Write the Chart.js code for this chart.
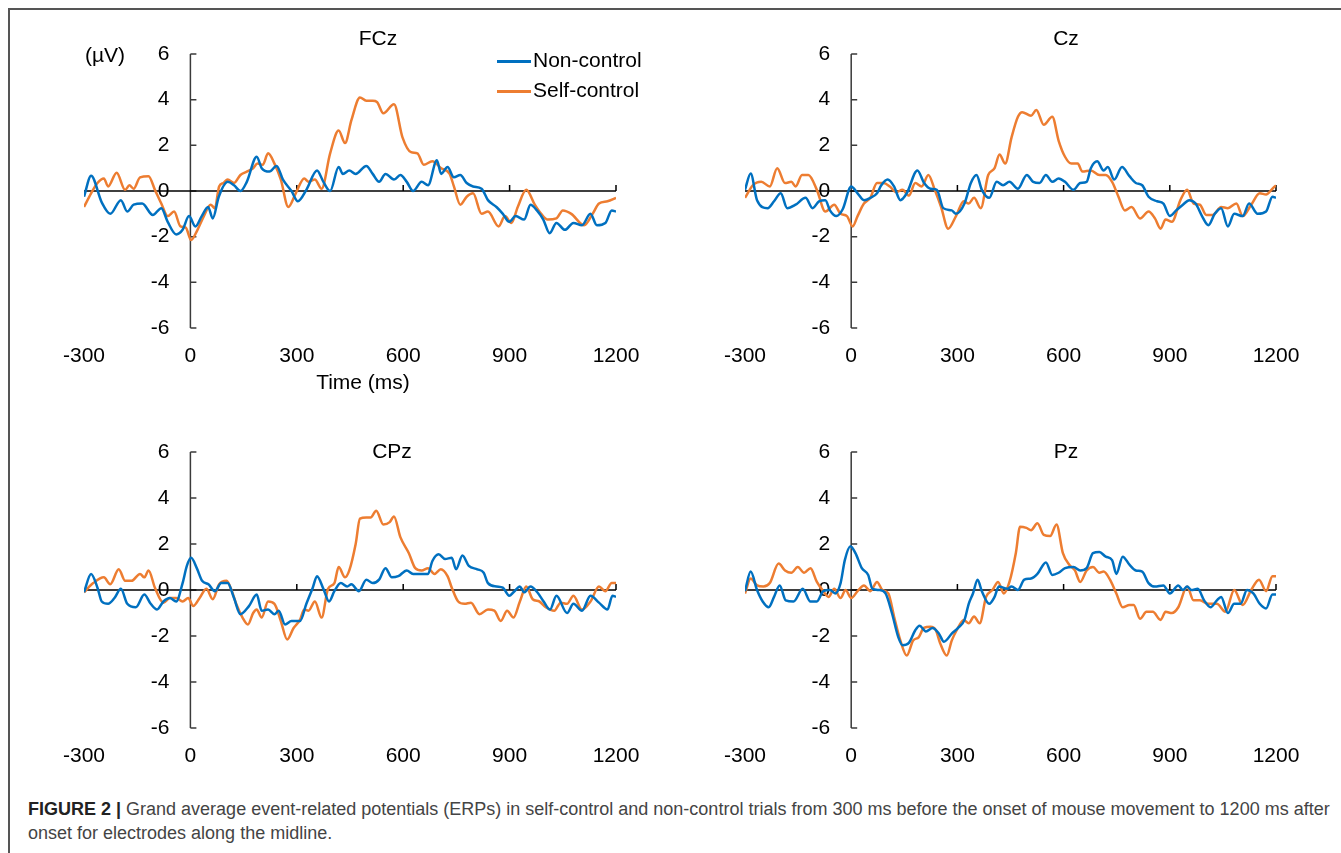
<!DOCTYPE html>
<html lang="en">

<head>
  <meta charset="UTF-8" />
  <title>Grand average ERPs</title>
  <script src="https://cdn.jsdelivr.net/npm/chart.js"></script>
  <style>
    body {
      margin: 0;
      background: #fff;
      font-family: "Liberation Sans", Arial, sans-serif;
    }

    #page {
      position: relative;
      width: 1341px;
      height: 853px;
      overflow: hidden;
    }

    #frame {
      position: absolute;
      left: 8px;
      top: 8px;
      right: -10px;
      bottom: -10px;
      border-top: 2px solid #555;
      border-left: 2px solid #555;
    }

    canvas {
      position: absolute;
    }

    .lbl {
      position: absolute;
      transform: translate(-50%, -50%);
      white-space: nowrap;
      color: #000;
      font-size: 21px;
    }

    .leg {
      position: absolute;
      white-space: nowrap;
      font-size: 21px;
      transform: translateY(-50%);
    }

    .leg span {
      display: inline-block;
      width: 34px;
      height: 3px;
      vertical-align: middle;
      margin-right: 2px;
    }

    .cap {
      position: absolute;
      left: 28px;
      white-space: nowrap;
      font-size: 18px;
      color: #444;
    }
  </style>
</head>

<body>
  <div id="page">
    <div id="frame"></div>

    <canvas id="c_fcz" width="670" height="390" style="left:0;top:0"></canvas>
    <canvas id="c_cz" width="671" height="390" style="left:670px;top:0"></canvas>
    <canvas id="c_cpz" width="670" height="400" style="left:0;top:390px"></canvas>
    <canvas id="c_pz" width="671" height="400" style="left:670px;top:390px"></canvas>

    <div class="lbl" style="left:378px;top:38px">FCz</div>
    <div class="lbl" style="left:1066px;top:38px">Cz</div>
    <div class="lbl" style="left:392px;top:451px">CPz</div>
    <div class="lbl" style="left:1066px;top:451px">Pz</div>
    <div class="lbl" style="left:105px;top:55px">(µV)</div>
    <div class="lbl" style="left:363px;top:382px">Time (ms)</div>

    <div class="leg" style="left:497px;top:60px"><span style="background:#0070c0"></span>Non-control</div>
    <div class="leg" style="left:497px;top:90px"><span style="background:#ed7d31"></span>Self-control</div>

    <div class="cap" style="top:799px"><b style="color:#222">FIGURE 2 |</b> Grand average event-related potentials (ERPs) in self-control and non-control trials from 300 ms before the onset of mouse movement to 1200 ms after</div>
    <div class="cap" style="top:823px">onset for electrodes along the midline.</div>
  </div>

  <script>
    // 軸刻度
    const xTicks = [-300, 0, 300, 600, 900, 1200];
    const yTicks = [-6, -4, -2, 0, 2, 4, 6];

    // [time (ms), amplitude (µV)]
    const fczNon = [[-300, -0.25], [-280, 0.67], [-250, -0.5], [-226, -1.0], [-196, -0.4], [-178, -0.9], [-160, -0.6], [-136, -0.55], [-106, -1.05], [-82, -0.75], [-64, -1.35], [-40, -1.9], [-22, -1.7], [-4, -1.1], [14, -1.55], [32, -1.1], [50, -0.7], [63, -1.2], [80, -0.25], [105, 0.4], [123, 0.25], [141, 0.0], [159, 0.4], [187, 1.5], [201, 1.0], [223, 0.85], [243, 1.1], [261, 0.5], [285, 0.0], [303, -0.45], [327, 0.05], [357, 0.9], [375, 0.4], [394, 0.0], [418, 1.05], [430, 0.75], [448, 0.9], [466, 0.75], [496, 1.1], [514, 0.75], [532, 0.4], [550, 0.75], [574, 0.5], [592, 0.7], [610, 0.4], [628, 0.0], [652, 0.4], [670, 0.25], [695, 1.35], [707, 0.75], [725, 1.05], [743, 0.6], [761, 0.7], [779, 0.35], [797, 0.2], [821, 0.1], [839, -0.4], [863, -0.7], [881, -1.0], [899, -1.35], [917, -1.1], [941, -1.25], [959, -0.6], [977, -0.85], [995, -1.25], [1013, -1.85], [1032, -1.4], [1056, -1.7], [1080, -1.4], [1104, -1.5], [1128, -1.0], [1146, -1.5], [1170, -1.4], [1188, -0.85], [1200, -0.9]];
    const fczSelf = [[-300, -0.7], [-280, -0.1], [-262, 0.35], [-244, 0.55], [-232, 0.2], [-208, 0.8], [-184, 0.05], [-172, 0.25], [-160, 0.1], [-142, 0.6], [-118, 0.65], [-100, 0.05], [-82, -0.55], [-64, -1.1], [-46, -0.9], [-28, -1.55], [-13, -1.6], [2, -2.15], [20, -1.7], [38, -1.1], [57, -0.6], [69, -0.75], [81, 0.2], [93, 0.35], [105, 0.5], [123, 0.35], [141, 0.7], [159, 0.85], [177, 1.0], [189, 1.2], [204, 1.15], [219, 1.65], [237, 1.2], [255, 0.5], [276, -0.7], [297, -0.1], [321, 0.55], [333, 0.4], [351, 0.5], [370, 0.1], [394, 1.65], [418, 2.65], [436, 2.1], [454, 3.1], [478, 4.1], [496, 3.95], [514, 3.95], [526, 3.9], [544, 3.4], [574, 3.8], [598, 2.35], [622, 1.7], [640, 1.65], [658, 1.15], [682, 1.3], [707, 1.0], [731, 0.75], [743, 0.2], [761, -0.6], [779, -0.25], [797, -0.1], [821, -1.0], [839, -0.9], [869, -1.55], [887, -1.1], [905, -1.4], [923, -0.7], [947, 0.05], [971, -0.6], [989, -1.0], [1007, -1.25], [1032, -1.2], [1050, -0.85], [1074, -1.0], [1110, -1.5], [1134, -1.0], [1152, -0.55], [1176, -0.45], [1200, -0.3]];

    const czNon = [[-300, 0.05], [-284, 0.77], [-266, -0.4], [-236, -0.75], [-218, -0.45], [-199, -0.1], [-181, -0.75], [-157, -0.6], [-129, -0.3], [-109, -0.75], [-91, -0.45], [-73, -0.4], [-60, -0.85], [-42, -1.1], [-24, -0.8], [0, 0.2], [18, -0.1], [36, -0.4], [54, -0.3], [73, -0.1], [85, 0.25], [103, 0.5], [121, 0.2], [139, -0.4], [157, -0.1], [187, 0.9], [206, 0.35], [224, 0.1], [242, 0.05], [260, -0.75], [284, -0.85], [296, -1.0], [320, -0.55], [338, 0.35], [354, 0.7], [369, 0.05], [390, -0.3], [411, 0.4], [429, 0.25], [447, 0.4], [471, 0.1], [496, 0.7], [514, 0.4], [532, 0.35], [550, 0.7], [568, 0.4], [586, 0.55], [604, 0.4], [628, 0.05], [647, 0.35], [665, 0.4], [677, 1.0], [695, 1.3], [713, 0.9], [725, 1.05], [743, 0.5], [765, 1.05], [786, 0.65], [804, 0.35], [822, 0.25], [840, -0.25], [864, -0.45], [882, -0.55], [900, -1.1], [918, -0.85], [937, -0.6], [955, -0.4], [973, -0.55], [991, -1.1], [1009, -1.5], [1027, -1.0], [1045, -0.75], [1064, -1.55], [1082, -1.0], [1106, -1.1], [1124, -0.55], [1148, -1.0], [1172, -0.9], [1190, -0.25], [1200, -0.3]];
    const czSelf = [[-300, -0.3], [-278, 0.25], [-254, 0.4], [-230, 0.2], [-209, 1.0], [-187, 0.35], [-169, 0.4], [-157, 0.2], [-139, 0.7], [-121, 0.7], [-97, 0.05], [-73, -0.9], [-48, -0.6], [-30, -1.0], [-12, -1.1], [4, -1.55], [18, -1.1], [36, -0.55], [54, -0.3], [73, 0.35], [91, 0.35], [109, 0.2], [127, -0.05], [145, 0.05], [163, -0.2], [181, 0.35], [199, 0.2], [218, 0.7], [236, 0.05], [254, -0.7], [274, -1.65], [296, -1.1], [318, -0.45], [332, -0.55], [347, -0.3], [366, -0.75], [387, 0.7], [405, 1.0], [419, 1.6], [435, 1.2], [453, 2.35], [471, 3.25], [483, 3.45], [508, 3.3], [523, 3.55], [544, 2.9], [568, 3.25], [586, 2.2], [604, 1.5], [622, 1.2], [640, 1.2], [653, 0.85], [677, 0.9], [701, 0.7], [719, 0.7], [737, 0.4], [755, -0.25], [773, -0.85], [792, -0.7], [816, -1.2], [840, -0.9], [858, -1.2], [874, -1.65], [888, -1.25], [906, -1.35], [930, -0.4], [949, 0.05], [967, -0.55], [985, -0.6], [1003, -1.05], [1021, -1.05], [1045, -0.7], [1064, -0.75], [1088, -0.55], [1106, -1.1], [1130, -0.6], [1154, -0.1], [1172, -0.15], [1190, 0.1], [1200, 0.25]];

    const cpzNon = [[-300, -0.1], [-280, 0.7], [-262, 0.1], [-250, -0.5], [-232, -0.6], [-214, -0.35], [-196, 0.05], [-178, -0.6], [-154, -0.75], [-130, -0.2], [-112, -0.6], [-94, -0.85], [-76, -0.5], [-58, -0.35], [-40, -0.5], [-22, 0.3], [-10, 1.05], [2, 1.4], [18, 0.95], [33, 0.4], [51, 0.25], [69, -0.05], [87, 0.3], [105, 0.3], [123, -0.35], [141, -1.05], [165, -0.7], [187, -0.2], [201, -0.9], [219, -0.85], [237, -1.05], [249, -0.9], [267, -1.5], [285, -1.35], [309, -1.35], [327, -0.6], [345, 0.1], [357, 0.6], [375, 0.05], [391, -0.5], [406, -0.05], [424, 0.3], [442, 0.15], [454, 0.25], [475, -0.05], [496, 0.45], [514, 0.3], [532, 0.45], [550, 0.95], [568, 0.55], [586, 0.6], [610, 0.85], [628, 0.7], [652, 0.7], [670, 0.7], [682, 1.25], [700, 1.55], [718, 1.35], [737, 1.4], [749, 0.9], [767, 1.5], [785, 1.05], [809, 0.9], [827, 0.75], [839, 0.3], [863, 0.15], [881, 0.1], [899, -0.25], [911, -0.1], [929, 0.15], [941, -0.1], [959, 0.15], [978, -0.1], [996, -0.5], [1014, -0.85], [1032, -0.25], [1062, -1.0], [1080, -0.6], [1104, -0.9], [1128, -0.25], [1152, -0.55], [1176, -0.85], [1190, -0.25], [1200, -0.3]];
    const cpzSelf = [[-300, -0.1], [-274, 0.3], [-244, 0.55], [-226, 0.25], [-202, 0.9], [-184, 0.4], [-166, 0.4], [-142, 0.7], [-130, 0.55], [-118, 0.85], [-100, 0.1], [-76, -0.55], [-58, -0.35], [-40, -0.35], [-22, -0.5], [-6, -0.35], [8, -0.7], [26, -0.35], [45, 0.05], [63, -0.4], [81, 0.25], [102, 0.4], [117, -0.05], [129, -0.6], [147, -1.2], [162, -1.5], [177, -1.0], [187, -0.85], [201, -1.2], [219, -0.5], [237, -0.6], [255, -1.35], [273, -2.15], [291, -1.65], [309, -1.3], [321, -0.85], [333, -0.9], [351, -0.5], [370, -1.2], [388, 0.05], [406, 0.3], [418, 1.0], [436, 0.55], [448, 0.85], [466, 2.0], [478, 3.1], [496, 3.15], [508, 3.15], [524, 3.45], [544, 2.85], [562, 2.95], [574, 3.2], [592, 2.3], [616, 1.6], [634, 0.95], [652, 0.85], [670, 0.95], [688, 0.7], [706, 0.9], [725, 0.6], [737, 0.1], [755, -0.5], [773, -0.6], [791, -0.55], [815, -1.05], [839, -0.85], [857, -0.9], [875, -1.35], [893, -0.9], [911, -1.2], [929, -0.5], [947, 0.15], [965, -0.4], [984, -0.5], [1002, -0.75], [1026, -0.9], [1044, -0.55], [1062, -0.6], [1080, -0.25], [1104, -0.85], [1128, -0.5], [1152, 0.15], [1170, -0.05], [1188, 0.3], [1200, 0.3]];

    const pzNon = [[-300, -0.05], [-284, 0.8], [-266, 0.0], [-250, -0.5], [-233, -0.75], [-218, -0.3], [-202, 0.2], [-185, -0.45], [-163, -0.5], [-137, 0.05], [-115, -0.5], [-97, -0.5], [-79, -0.05], [-60, 0.0], [-45, -0.15], [-30, 0.3], [-18, 1.3], [-2, 1.9], [12, 1.6], [30, 0.95], [48, 0.65], [60, 0.05], [79, 0.0], [97, -0.15], [115, -1.0], [133, -2.05], [145, -2.4], [163, -2.3], [181, -1.75], [193, -1.55], [211, -1.8], [230, -1.65], [248, -1.9], [262, -2.25], [284, -1.9], [302, -1.65], [320, -1.3], [332, -0.6], [344, -0.15], [357, 0.45], [369, -0.05], [390, -0.6], [405, -0.3], [417, 0.15], [441, 0.05], [453, 0.15], [471, 0.0], [489, 0.45], [508, 0.5], [526, 0.7], [550, 1.2], [568, 0.65], [586, 0.75], [604, 0.95], [628, 1.0], [647, 0.85], [665, 0.95], [683, 1.6], [701, 1.65], [719, 1.45], [737, 1.3], [749, 0.7], [767, 1.45], [786, 1.1], [804, 0.85], [822, 0.8], [840, 0.3], [858, 0.15], [882, 0.2], [900, -0.15], [924, 0.2], [937, 0.0], [949, 0.15], [961, 0.0], [979, 0.05], [997, -0.45], [1015, -0.75], [1033, -0.45], [1045, -0.3], [1064, -1.0], [1082, -0.6], [1100, -0.6], [1118, 0.0], [1136, -0.15], [1154, -0.6], [1172, -0.8], [1190, -0.2], [1200, -0.2]];
    const pzSelf = [[-300, -0.15], [-284, 0.5], [-266, 0.2], [-248, 0.15], [-230, 0.3], [-205, 1.15], [-187, 0.85], [-169, 0.75], [-151, 1.0], [-133, 0.75], [-115, 0.95], [-97, 0.35], [-79, -0.05], [-64, -0.3], [-48, 0.05], [-30, -0.35], [-16, 0.0], [0, -0.35], [18, -0.05], [36, 0.2], [54, -0.05], [73, 0.35], [88, 0.0], [105, -0.15], [121, -1.15], [139, -2.2], [157, -2.85], [175, -2.2], [191, -2.05], [205, -1.65], [224, -1.6], [239, -1.75], [251, -2.3], [270, -2.85], [284, -2.2], [298, -1.75], [318, -1.3], [332, -1.45], [347, -1.15], [363, -1.45], [381, -0.3], [399, 0.0], [415, 0.35], [431, -0.15], [447, 0.35], [465, 1.6], [477, 2.75], [495, 2.7], [508, 2.6], [526, 2.9], [544, 2.4], [562, 2.35], [580, 2.85], [598, 1.6], [616, 1.1], [632, 0.85], [647, 0.35], [665, 0.85], [683, 1.0], [701, 0.75], [713, 0.8], [731, 0.45], [749, -0.15], [767, -0.75], [786, -0.65], [798, -0.65], [816, -1.25], [834, -0.95], [852, -0.95], [874, -1.3], [888, -0.95], [906, -1.0], [924, -0.75], [949, 0.15], [967, -0.45], [985, -0.45], [1009, -0.6], [1033, -0.6], [1057, -0.95], [1082, 0.0], [1106, -0.65], [1130, 0.0], [1152, 0.45], [1172, -0.05], [1190, 0.6], [1200, 0.6]];

    Chart.defaults.font.family = '"Liberation Sans", Arial, sans-serif';
    Chart.defaults.font.size = 21;
    Chart.defaults.color = "#000";

    // 畫零線、y軸、刻度 (用 scale 換算像素)
    const erpAxes = {
      id: "erpAxes",
      beforeDatasetsDraw(chart) {
        const { ctx, scales } = chart;
        const x = scales.x;
        const y = scales.y;
        const x0 = x.getPixelForValue(0);
        const y0 = y.getPixelForValue(0);
        const yTop = y.getPixelForValue(yTicks[yTicks.length - 1]);
        const yBot = y.getPixelForValue(yTicks[0]);
        ctx.save();
        ctx.lineWidth = 1.5;
        ctx.strokeStyle = "#3a3a3a";
        ctx.beginPath();
        ctx.moveTo(x0, yTop);
        ctx.lineTo(x0, yBot);
        yTicks.forEach((v) => {
          const py = y.getPixelForValue(v);
          ctx.moveTo(x0, py);
          ctx.lineTo(x0 + 6, py);
        });
        ctx.stroke();

        ctx.fillStyle = "#000";
        ctx.font = '21px "Liberation Sans", Arial, sans-serif';
        ctx.textAlign = "right";
        ctx.textBaseline = "middle";
        yTicks.forEach((v) => {
          ctx.fillText(String(v), x0 - 21, y.getPixelForValue(v));
        });

        ctx.strokeStyle = "#000";
        ctx.beginPath();
        ctx.moveTo(x.getPixelForValue(xTicks[0]), y0);
        ctx.lineTo(x.getPixelForValue(xTicks[xTicks.length - 1]), y0);
        xTicks.filter((v) => v > 0).forEach((v) => {
          const px = x.getPixelForValue(v);
          ctx.moveTo(px, y0);
          ctx.lineTo(px, y0 - 6);
        });
        ctx.stroke();
        ctx.restore();
      },
    };

    function toXY(arr) {
      return arr.map((p) => ({ x: p[0], y: p[1] }));
    }

    function makePanel(id, nonData, selfData, pad) {
      const ctx = document.getElementById(id);
      return new Chart(ctx, {
        type: "line",
        data: {
          datasets: [
            {
              label: "Non-control",
              data: toXY(nonData),
              borderColor: "#0070c0",
              borderWidth: 2.5,
              pointRadius: 0,
              cubicInterpolationMode: "monotone",
            },
            {
              label: "Self-control",
              data: toXY(selfData),
              borderColor: "#ed7d31",
              borderWidth: 2.5,
              pointRadius: 0,
              cubicInterpolationMode: "monotone",
            },
          ],
        },
        options: {
          responsive: false,
          animation: false,
          layout: { padding: pad },
          plugins: {
            legend: { display: false },
            tooltip: { enabled: false },
          },
          scales: {
            x: {
              type: "linear",
              min: xTicks[0],
              max: xTicks[xTicks.length - 1],
              afterBuildTicks: (s) => {
                s.ticks = xTicks.map((v) => ({ value: v }));
              },
              afterFit: (s) => {
                s.height = 40;
              },
              grid: { display: false, drawTicks: false },
              border: { display: false },
              ticks: {
                padding: 16,
                maxRotation: 0,
                callback: (v) => String(v),
              },
            },
            y: {
              display: false,
              min: yTicks[0],
              max: yTicks[yTicks.length - 1],
            },
          },
        },
        plugins: [erpAxes],
      });
    }

    makePanel("c_fcz", fczNon, fczSelf, { left: 84, right: 54, top: 54, bottom: 22 });
    makePanel("c_cz", czNon, czSelf, { left: 75, right: 65, top: 54, bottom: 22 });
    makePanel("c_cpz", cpzNon, cpzSelf, { left: 84, right: 54, top: 62, bottom: 22 });
    makePanel("c_pz", pzNon, pzSelf, { left: 75, right: 65, top: 62, bottom: 22 });
  </script>
</body>

</html>
